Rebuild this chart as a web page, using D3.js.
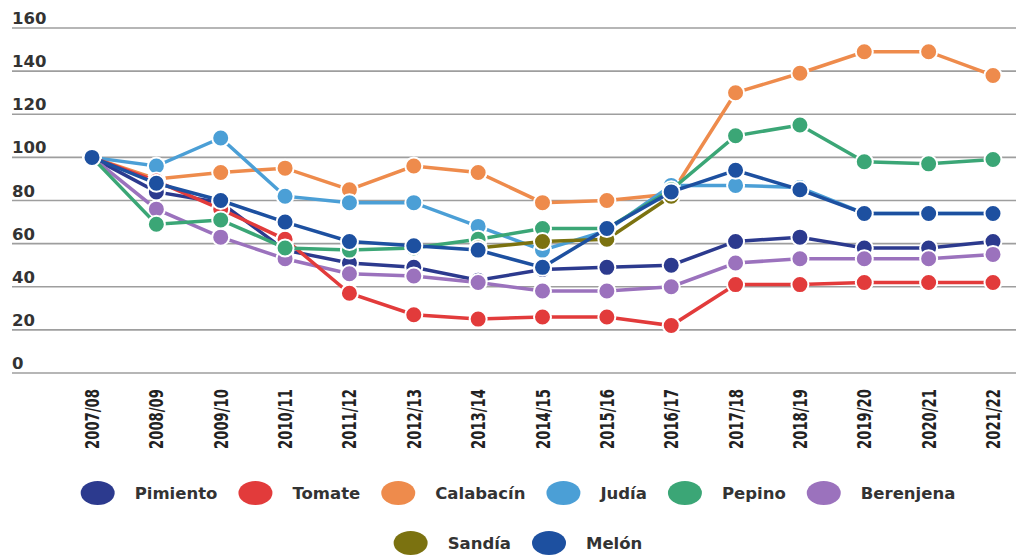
<!DOCTYPE html>
<html>
<head>
<meta charset="utf-8">
<script src="https://cdnjs.cloudflare.com/ajax/libs/d3/7.8.5/d3.min.js"></script>
<style>
  body { margin: 0; background: #fff; }
  svg { display: block; }
</style>
</head>
<body>
<div id="chart"></div>
<script>
// campaigns on the x axis
var years = ["2007/08","2008/09","2009/10","2010/11","2011/12","2012/13","2013/14","2014/15",
  "2015/16","2016/17","2017/18","2018/19","2019/20","2020/21","2021/22"];
var yTicks = [0, 20, 40, 60, 80, 100, 120, 140, 160];

// index values (2007/08 = 100)
var pimiento  = [100, 84, 79, 57, 51, 49, 43, 48, 49, 50, 61, 63, 58, 58, 61];
var tomate    = [100, 89, 76, 62, 37, 27, 25, 26, 26, 22, 41, 41, 42, 42, 42];
var calabacin = [100, 90, 93, 95, 85, 96, 93, 79, 80, 83, 130, 139, 149, 149, 138];
var judia     = [100, 96, 109, 82, 79, 79, 68, 57, 66, 87, 87, 86, 74, 74, 74];
var pepino    = [100, 69, 71, 58, 57, 58, 62, 67, 67, 85, 110, 115, 98, 97, 99];
var berenjena = [100, 76, 63, 53, 46, 45, 42, 38, 38, 40, 51, 53, 53, 53, 55];
var sandia    = [null, null, null, null, null, null, 58, 61, 62, 82, null, null, null, null, null];
var melon     = [100, 88, 80, 70, 61, 59, 57, 49, 67, 84, 94, 85, 74, 74, 74];

var seriesNames  = ["Pimiento","Tomate","Calabacín","Judía","Pepino","Berenjena","Sandía","Melón"];
var seriesValues = [pimiento, tomate, calabacin, judia, pepino, berenjena, sandia, melon];
var seriesColors = ["#2c3a8e","#e23b3b","#ee8b4c","#4b9fd6","#3ba676","#9b72bd","#7b7210","#1d50a0"];
// drawing order (bottom to top)
var drawOrder = [2, 3, 0, 5, 1, 4, 6, 7];

var width = 1016, height = 555;

var svg = d3.select("#chart").append("svg")
  .attr("width", width)
  .attr("height", height);

var x = d3.scalePoint().domain(years).range([92, 993]);
var y = d3.scaleLinear().domain([0, 160]).range([373, 28]);

// gridlines + y labels
var grid = svg.append("g");
grid.selectAll("line").data(yTicks).enter().append("line")
  .attr("x1", 12).attr("x2", width)
  .attr("y1", function(d){ return y(d); })
  .attr("y2", function(d){ return y(d); })
  .attr("stroke", "#9e9e9e")
  .attr("stroke-width", 1.6);
grid.selectAll("text").data(yTicks).enter().append("text")
  .attr("x", 12)
  .attr("y", function(d){ return y(d) - 4; })
  .attr("font-family", "DejaVu Sans, sans-serif")
  .attr("font-weight", "bold")
  .attr("font-size", 16.5)
  .attr("fill", "#333")
  .text(function(d){ return d; });

// x labels, rotated
svg.append("g").selectAll("text").data(years).enter().append("text")
  .attr("transform", function(d){ return "translate(" + x(d) + ",389) rotate(-90)"; })
  .attr("dy", "0.36em")
  .attr("text-anchor", "end")
  .attr("font-family", "Liberation Sans Narrow, DejaVu Sans Condensed, sans-serif")
  .attr("font-weight", "bold")
  .attr("font-size", 19.5)
  .attr("textLength", 60)
  .attr("lengthAdjust", "spacingAndGlyphs")
  .attr("fill", "#222")
  .text(function(d){ return d; });

var line = d3.line()
  .defined(function(d){ return d != null; })
  .x(function(d, i){ return x(years[i]); })
  .y(function(d){ return y(d); });

drawOrder.forEach(function(s) {
  var vals = seriesValues[s];
  var g = svg.append("g").attr("class", "series");
  g.append("path")
    .datum(vals)
    .attr("d", line)
    .attr("fill", "none")
    .attr("stroke", seriesColors[s])
    .attr("stroke-width", 3.5);
  var pts = vals.map(function(v, i){ return {v: v, i: i}; })
    .filter(function(d){ return d.v != null; });
  g.selectAll("circle").data(pts).enter().append("circle")
    .attr("cx", function(d){ return x(years[d.i]); })
    .attr("cy", function(d){ return y(d.v); })
    .attr("r", 8.5)
    .attr("fill", seriesColors[s])
    .attr("stroke", "#fff")
    .attr("stroke-width", 2);
});

// legend: two centred rows
var legendRows = [[0, 1, 2, 3, 4, 5], [6, 7]];
var legendY = [493, 543];
var legend = svg.append("g");
legendRows.forEach(function(row, r) {
  var items = row.map(function(s) {
    var g = legend.append("g");
    g.append("ellipse")
      .attr("cx", 17).attr("cy", 0)
      .attr("rx", 17).attr("ry", 12)
      .attr("fill", seriesColors[s]);
    var t = g.append("text")
      .attr("x", 54)
      .attr("dy", "0.36em")
      .attr("font-family", "DejaVu Sans, sans-serif")
      .attr("font-weight", "bold")
      .attr("font-size", 16.5)
      .attr("fill", "#333")
      .text(seriesNames[s]);
    return {g: g, w: 54 + t.node().getComputedTextLength()};
  });
  var gap = 21;
  var total = d3.sum(items, function(d){ return d.w; }) + gap * (items.length - 1);
  var cx = 518 - total / 2;
  items.forEach(function(it) {
    it.g.attr("transform", "translate(" + cx + "," + legendY[r] + ")");
    cx += it.w + gap;
  });
});
</script>
</body>
</html>
